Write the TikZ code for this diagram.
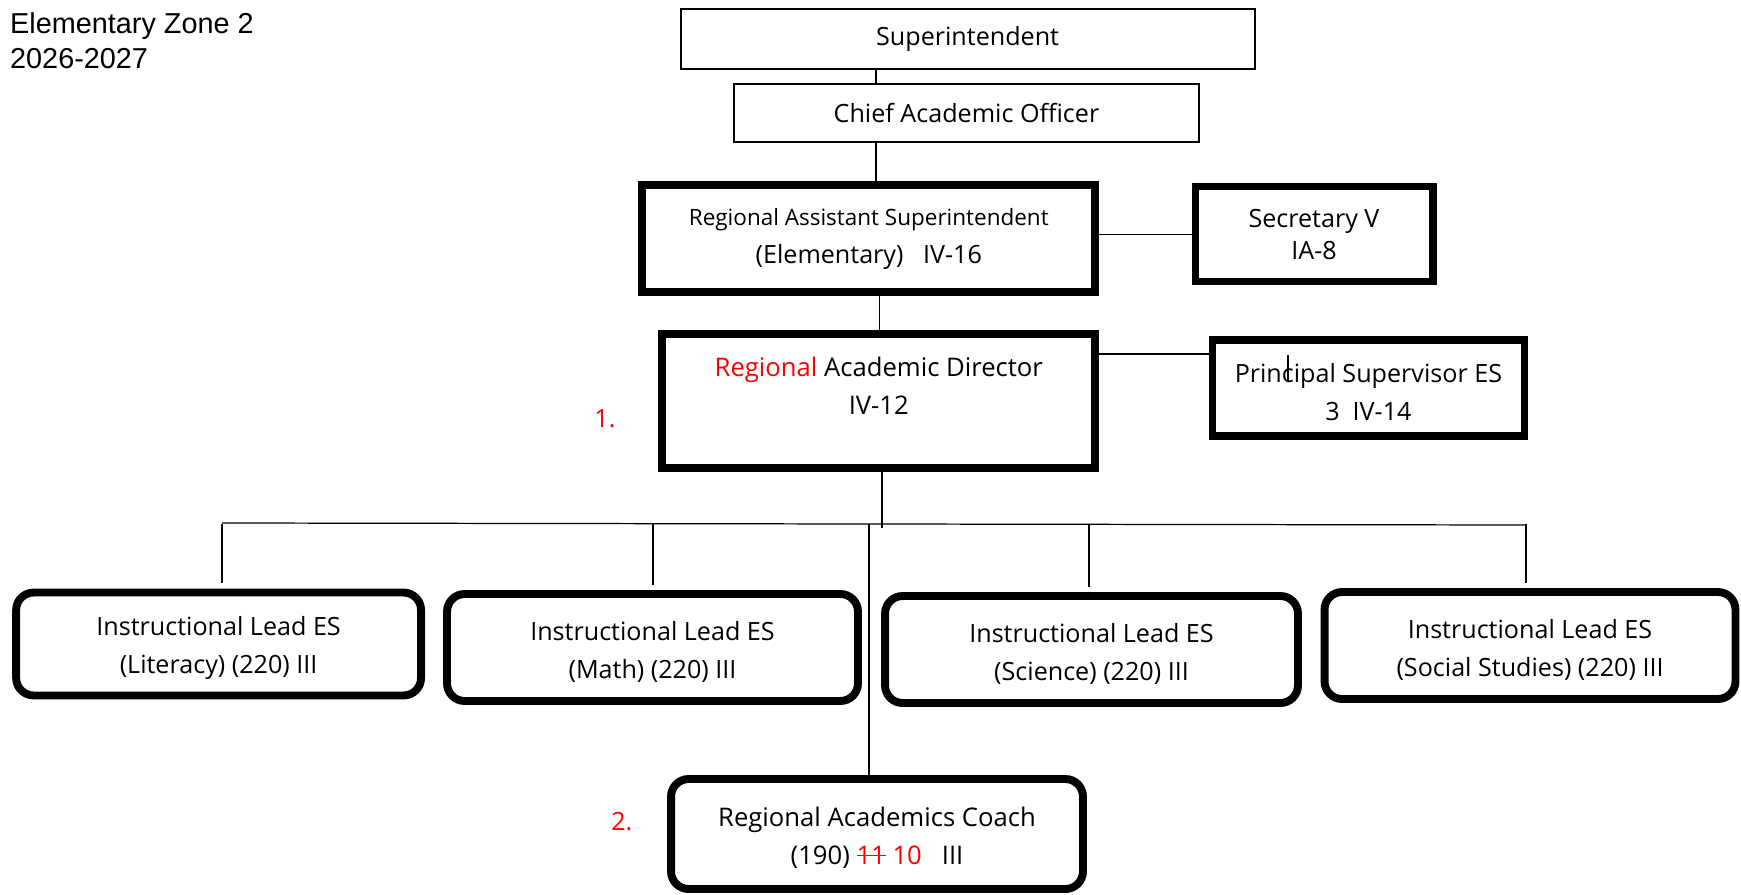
\documentclass[tikz,border=0pt]{standalone}
\usepackage{fontspec}
\setmainfont{Open Sans}
\newfontfamily\titlefont{Liberation Sans}
\newcommand{\strikenum}[1]{\setbox0\hbox{#1}\rlap{\rule[0.33em]{\wd0}{0.8pt}}\box0\relax}
\newcommand{\lowstrut}{\rule{0pt}{15.5pt}}

\begin{document}
\begin{tikzpicture}[x = 0.02cm, y = -0.02cm, font = \fontsize{14.3}{21.5}\selectfont,
        thinbox/.style = {draw, line width = 1.1pt, inner sep = 0pt, align = center},
        boldbox/.style = {draw, line width = 4.5pt, inner sep = 0pt, align = center},
        roundbox/.style = {draw, line width = 4.5pt, rounded corners = 10pt, inner sep = 0pt, align = center},
        conn/.style = {line width = 0.7pt}]
        \useasboundingbox (0,0) rectangle (1741,895);
        
        \node [anchor = north west, align = left, font = \titlefont\fontsize{16.4}{20.2}\selectfont] (title) at (4,6) {Elementary Zone 2\\2026-2027};
        
        \node [thinbox, minimum width = 11.48cm, minimum height = 1.2cm] (sup) at (967.6,38.9) {Superintendent};
        \node [thinbox, minimum width = 9.3cm, minimum height = 1.16cm] (cao) at (966.5,113.2) {Chief Academic Officer};
        \node [boldbox, minimum width = 9.06cm, minimum height = 2.15cm] (ras) at (868.8,238.7) {{\fontsize{12.8}{21.5}\selectfont Regional Assistant Superintendent}\\(Elementary)\ \ \ IV-16};
        \node [boldbox, line width = 4pt, minimum width = 4.76cm, minimum height = 1.9cm, font = \fontsize{14.3}{18.5}\selectfont] (sec) at (1314,234.3) {Secretary V\\IA-8};
        \node [boldbox, minimum width = 8.66cm, minimum height = 2.68cm, font = \fontsize{14.6}{21.5}\selectfont] (rad) at (878.8,400.9) {\lowstrut\textcolor{red}{Regional} Academic Director\\IV-12\\ \mbox{}};
        \node [boldbox, line width = 4pt, minimum width = 6.24cm, minimum height = 1.92cm] (ps) at (1368.4,388) {\lowstrut Principal Supervisor ES\\3\ \ IV-14};
        
        \node [roundbox, minimum width = 8.1cm, minimum height = 2.06cm] (lit) at (218.6,644) {\lowstrut Instructional Lead ES\\(Literacy) (220) III};
        \node [roundbox, minimum width = 8.22cm, minimum height = 2.14cm] (math) at (652.5,647.5) {\lowstrut Instructional Lead ES\\(Math) (220) III};
        \node [roundbox, minimum width = 8.26cm, minimum height = 2.14cm] (sci) at (1091.5,649.5) {\lowstrut Instructional Lead ES\\(Science) (220) III};
        \node [roundbox, minimum width = 8.22cm, minimum height = 2.14cm] (soc) at (1530,645.5) {\lowstrut Instructional Lead ES\\(Social Studies) (220) III};
        \node [roundbox, minimum width = 8.24cm, minimum height = 2.2cm, font = \fontsize{14.6}{21.5}\selectfont] (rac) at (877,834) {\lowstrut Regional Academics Coach\\(190) \textcolor{red}{\strikenum{11}\ 10}\ \ \ III};
        
        \node [text = red] (one) at (605,418.6) {1.};
        \node [text = red] (two) at (621.8,821.6) {2.};
        
        \coordinate (spine) at (876,0);
        \coordinate (bus) at (882,524);
        \coordinate (coach) at (869,524);
        \coordinate (psline) at (0,354);
        \coordinate (tick) at (1288,355);
        
        \draw [conn] (sup.south -| spine) -- (cao.north -| spine);
        \draw [conn] (cao.south -| spine) -- (ras.north -| spine);
        \draw [conn] ([xshift = 2pt]ras.south -| spine) -- ([xshift = 2pt]rad.north -| spine);
        \draw [conn] (sec.west -| ras.east) -- (sec.west);
        \draw [conn] (rad.east |- psline) -- (ps.west |- psline);
        \draw [conn] (tick) -- ++(0,27);
        
        \draw [conn] (rad.south -| bus) -- ([yshift = -2pt]bus);
        \draw [conn] (222,523) -- (1526,525);
        \foreach \n/\x in {lit/222, math/653, sci/1089, soc/1526}
            \draw [conn, shorten > = 3pt] (\x,524) -- (\n.north -| \x,0);
        \draw [conn] (coach) -- (coach |- rac.north);
    \end{tikzpicture}
\end{document}
